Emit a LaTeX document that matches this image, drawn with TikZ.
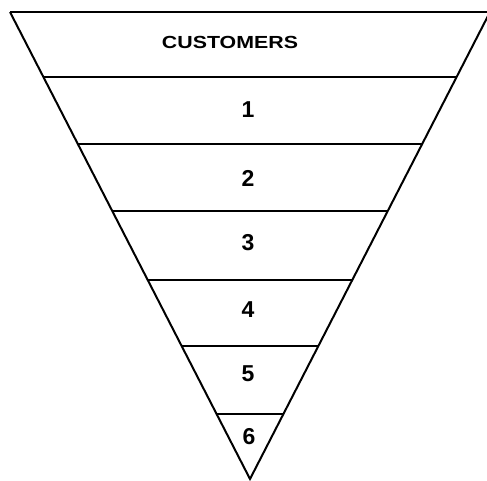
\documentclass[tikz,border=0pt]{standalone}
\usepackage{fontspec}
\setmainfont{Liberation Sans}
\usetikzlibrary{calc}
\begin{document}
\begin{tikzpicture}[x=1pt,y=-1pt,
  edge/.style={line width=2pt,line join=miter},
  band/.style={line width=1.5pt},
  lbl/.style={font=\fontsize{23}{25}\selectfont\bfseries,inner sep=0pt}]
\useasboundingbox (0,0) rectangle (487,480);
% corners
\coordinate (TL) at (10,12);
\coordinate (TR) at (490,12);
\coordinate (A) at (250,479);
\draw[edge] (TL) -- (A) -- (TR);
\draw[edge] (TL) -- (TR);
% band lines
\foreach \yy/\nm in {77/b1,144/b2,211/b3,280/b4,346/b5,414/b6}{
  \draw[band] ($(TL)!{(\yy-12)/467}!(A)$) coordinate (\nm L) -- ($(TR)!{(\yy-12)/467}!(A)$) coordinate (\nm R);
}
\node[font=\fontsize{17.5}{19}\selectfont\bfseries,inner sep=0pt,xscale=1.22] (cust) at (230,42) {CUSTOMERS};
\node[lbl] (n1) at (248,110) {1};
\node[lbl] (n2) at (248,178) {2};
\node[lbl] (n3) at (248,243) {3};
\node[lbl] (n4) at (248,310) {4};
\node[lbl] (n5) at (248,374) {5};
\node[lbl] (n6) at (249,437) {6};
\end{tikzpicture}
\end{document}
